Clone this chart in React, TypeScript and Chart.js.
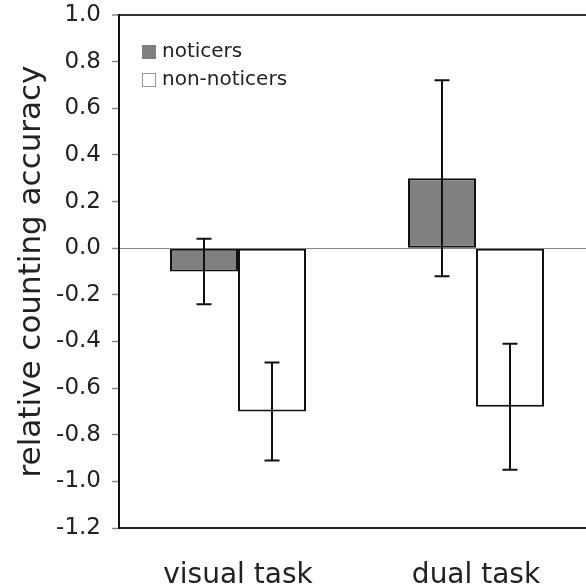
import React, { useEffect, useRef } from "react";
import { Chart, registerables } from "chart.js";

Chart.register(...registerables);

const categories = ["visual task", "dual task"];
const seriesNames = ["noticers", "non-noticers"];
const noticersValues = [-0.1, 0.3];
const nonNoticersValues = [-0.7, -0.68];
const noticersErrors = [0.14, 0.42];
const nonNoticersErrors = [0.21, 0.27];
const yMin = -1.2;
const yMax = 1.0;
const yStep = 0.2;
const yTitle = "relative counting accuracy";

const FONT = "'DejaVu Sans', Verdana, sans-serif";
const TEXT = "#222";
const seriesFill = ["#808080", "#ffffff"];
const legendBorders = ["#808080", "#999999"];
const errorsBySeries = [noticersErrors, nonNoticersErrors];

const errorBarPlugin = {
  id: "errorBars",
  afterDatasetsDraw(chart: any) {
    const { ctx } = chart;
    const y = chart.scales.y;
    chart.data.datasets.forEach((ds: any, di: number) => {
      const meta = chart.getDatasetMeta(di);
      const errs = errorsBySeries[di];
      meta.data.forEach((bar: any, i: number) => {
        const v = ds.data[i];
        const e = errs[i];
        const x = bar.x;
        const yt = y.getPixelForValue(v + e);
        const yb = y.getPixelForValue(v - e);
        ctx.save();
        ctx.strokeStyle = "#111";
        ctx.lineWidth = 2;
        ctx.beginPath();
        ctx.moveTo(x, yt);
        ctx.lineTo(x, yb);
        ctx.moveTo(x - 7.5, yt);
        ctx.lineTo(x + 7.5, yt);
        ctx.moveTo(x - 7.5, yb);
        ctx.lineTo(x + 7.5, yb);
        ctx.stroke();
        ctx.restore();
      });
    });
  },
};

const legendPlugin = {
  id: "insideLegend",
  afterDraw(chart: any) {
    const { ctx, chartArea } = chart;
    const x0 = chartArea.left + 23;
    const rows = [chartArea.top + 37, chartArea.top + 65];
    chart.data.datasets.forEach((ds: any, i: number) => {
      const cy = rows[i];
      ctx.save();
      ctx.fillStyle = seriesFill[i];
      ctx.fillRect(x0, cy - 7, 14, 14);
      ctx.strokeStyle = legendBorders[i];
      ctx.lineWidth = 1;
      ctx.strokeRect(x0 + 0.5, cy - 6.5, 13, 13);
      ctx.fillStyle = TEXT;
      ctx.font = `20px ${FONT}`;
      ctx.textBaseline = "middle";
      ctx.textAlign = "left";
      ctx.fillText(ds.label, x0 + 20, cy);
      ctx.restore();
    });
  },
};

export default function App() {
  const ref = useRef<HTMLCanvasElement | null>(null);

  useEffect(() => {
    document.documentElement.style.overflow = "hidden";
    document.body.style.overflow = "hidden";
    const canvas = ref.current;
    if (!canvas) return;
    const isVal = (v: number, t: number) => Math.abs(v - t) < 1e-9;
    const chart = new Chart(canvas, {
      type: "bar",
      data: {
        labels: categories,
        datasets: [
          {
            label: seriesNames[0],
            data: noticersValues,
            backgroundColor: seriesFill[0],
            borderColor: "#111",
            borderWidth: 2,
            borderSkipped: false,
            categoryPercentage: 0.5714,
            barPercentage: 1,
          },
          {
            label: seriesNames[1],
            data: nonNoticersValues,
            backgroundColor: seriesFill[1],
            borderColor: "#111",
            borderWidth: 2,
            borderSkipped: false,
            categoryPercentage: 0.5714,
            barPercentage: 1,
          },
        ],
      },
      options: {
        responsive: false,
        animation: false,
        devicePixelRatio: 1,
        layout: { padding: { top: 15, right: 5, left: 0, bottom: 0 } },
        plugins: {
          legend: { display: false },
          tooltip: { enabled: false },
        },
        scales: {
          x: {
            offset: true,
            grid: { display: false, drawTicks: false },
            border: { display: true, color: "#222", width: 2 },
            ticks: {
              color: TEXT,
              font: { family: FONT, size: 28 },
              padding: 31,
            },
            afterFit(scale: any) {
              scale.height = 59;
              scale.paddingLeft = 0;
              scale.paddingRight = 0;
            },
          },
          y: {
            min: yMin,
            max: yMax,
            grid: {
              drawOnChartArea: true,
              drawTicks: true,
              tickLength: 7,
              tickColor: "#888",
              tickWidth: 1.5,
              color: (c: any) =>
                isVal(c.tick?.value, 0)
                  ? "#8a8a8a"
                  : isVal(c.tick?.value, yMax)
                  ? "#333"
                  : "rgba(0,0,0,0)",
              lineWidth: (c: any) => (isVal(c.tick?.value, yMax) ? 2 : 1),
            },
            border: { display: true, color: "#111", width: 2 },
            ticks: {
              stepSize: yStep,
              color: TEXT,
              font: { family: FONT, size: 23 },
              padding: 11,
              callback: (v: any) => Number(v).toFixed(1),
            },
            title: {
              display: true,
              text: yTitle,
              color: TEXT,
              font: { family: FONT, size: 31 },
              padding: { top: 13, bottom: 0 },
            },
            afterFit(scale: any) {
              scale.width = 119;
              scale.paddingTop = 0;
              scale.paddingBottom = 0;
            },
          },
        },
      },
      plugins: [errorBarPlugin, legendPlugin],
    });
    return () => chart.destroy();
  }, []);

  return (
    <div
      style={{
        position: "fixed",
        left: 0,
        top: 0,
        width: 586,
        height: 587,
        overflow: "hidden",
        background: "#fff",
      }}
    >
      <canvas ref={ref} width={600} height={587} style={{ width: 600, height: 587, display: "block" }} />
    </div>
  );
}
